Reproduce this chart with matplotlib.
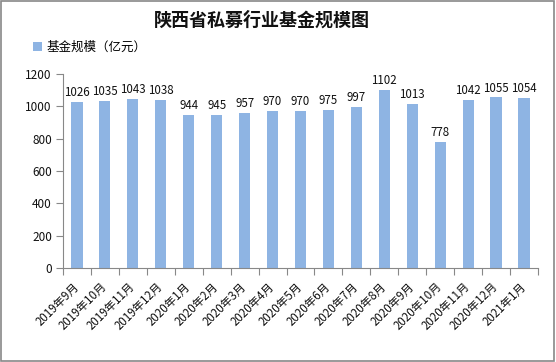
import matplotlib
matplotlib.use("Agg")
import matplotlib.pyplot as plt
from matplotlib.patches import Rectangle, Patch

plt.rcParams['font.family'] = ['Noto Sans CJK SC', 'DejaVu Sans']

categories = ["2019年9月", "2019年10月", "2019年11月", "2019年12月", "2020年1月", "2020年2月",
              "2020年3月", "2020年4月", "2020年5月", "2020年6月", "2020年7月", "2020年8月",
              "2020年9月", "2020年10月", "2020年11月", "2020年12月", "2021年1月"]
values = [1026, 1035, 1043, 1038, 944, 945, 957, 970, 970, 975, 997, 1102, 1013, 778, 1042, 1055, 1054]
yticks = [0, 200, 400, 600, 800, 1000, 1200]
title = "陕西省私募行业基金规模图"
series_name = "基金规模（亿元）"

bar_color = "#8EB4E3"
axis_color = "#888888"

fig = plt.figure(figsize=(5.56, 3.62), dpi=100)
ax = fig.add_axes([0.1133, 0.2597, 0.8543, 0.5359])

x = list(range(len(categories)))
ax.bar(x, values, width=0.4, color=bar_color, zorder=2)
for xi, v in zip(x, values):
    ax.text(xi, v + 18, str(v), ha='center', va='bottom', fontsize=8.3, color='#111111')

ax.set_xlim(-0.5, len(categories) - 0.5)
ax.set_ylim(0, 1200)
ax.set_yticks(yticks)
ax.set_yticklabels([str(t) for t in yticks], fontsize=8.5, color='#111111')

ax.set_xticks(x)
ax.set_xticklabels(categories, rotation=45, ha='right', va='center', rotation_mode='anchor',
                   fontsize=8.3, color='#111111')
ax.tick_params(axis='x', length=0, pad=12)
ax.set_xticks([i - 0.5 for i in range(len(categories) + 1)], minor=True)
ax.tick_params(axis='x', which='minor', length=5, color=axis_color, width=0.8)
ax.tick_params(axis='y', length=5, color=axis_color, width=0.8, pad=3)

for s in ['top', 'right']:
    ax.spines[s].set_visible(False)
for s in ['left', 'bottom']:
    ax.spines[s].set_color(axis_color)
    ax.spines[s].set_linewidth(0.8)

fig.text(0.471, 0.945, title, ha='center', va='center', fontsize=13, fontweight='bold', color='#111111')

handle = Patch(facecolor=bar_color, edgecolor='none')
fig.legend([handle], [series_name], loc='center left', bbox_to_anchor=(0.05, 0.870),
           frameon=False, fontsize=9, handlelength=0.7, handleheight=0.7, handletextpad=0.4,
           borderaxespad=0)

fig.patches.append(Rectangle((0.002, 0.003), 0.995, 0.993, transform=fig.transFigure,
                             fill=False, edgecolor=axis_color, linewidth=1.2))

fig.savefig("out.png", dpi=100)
